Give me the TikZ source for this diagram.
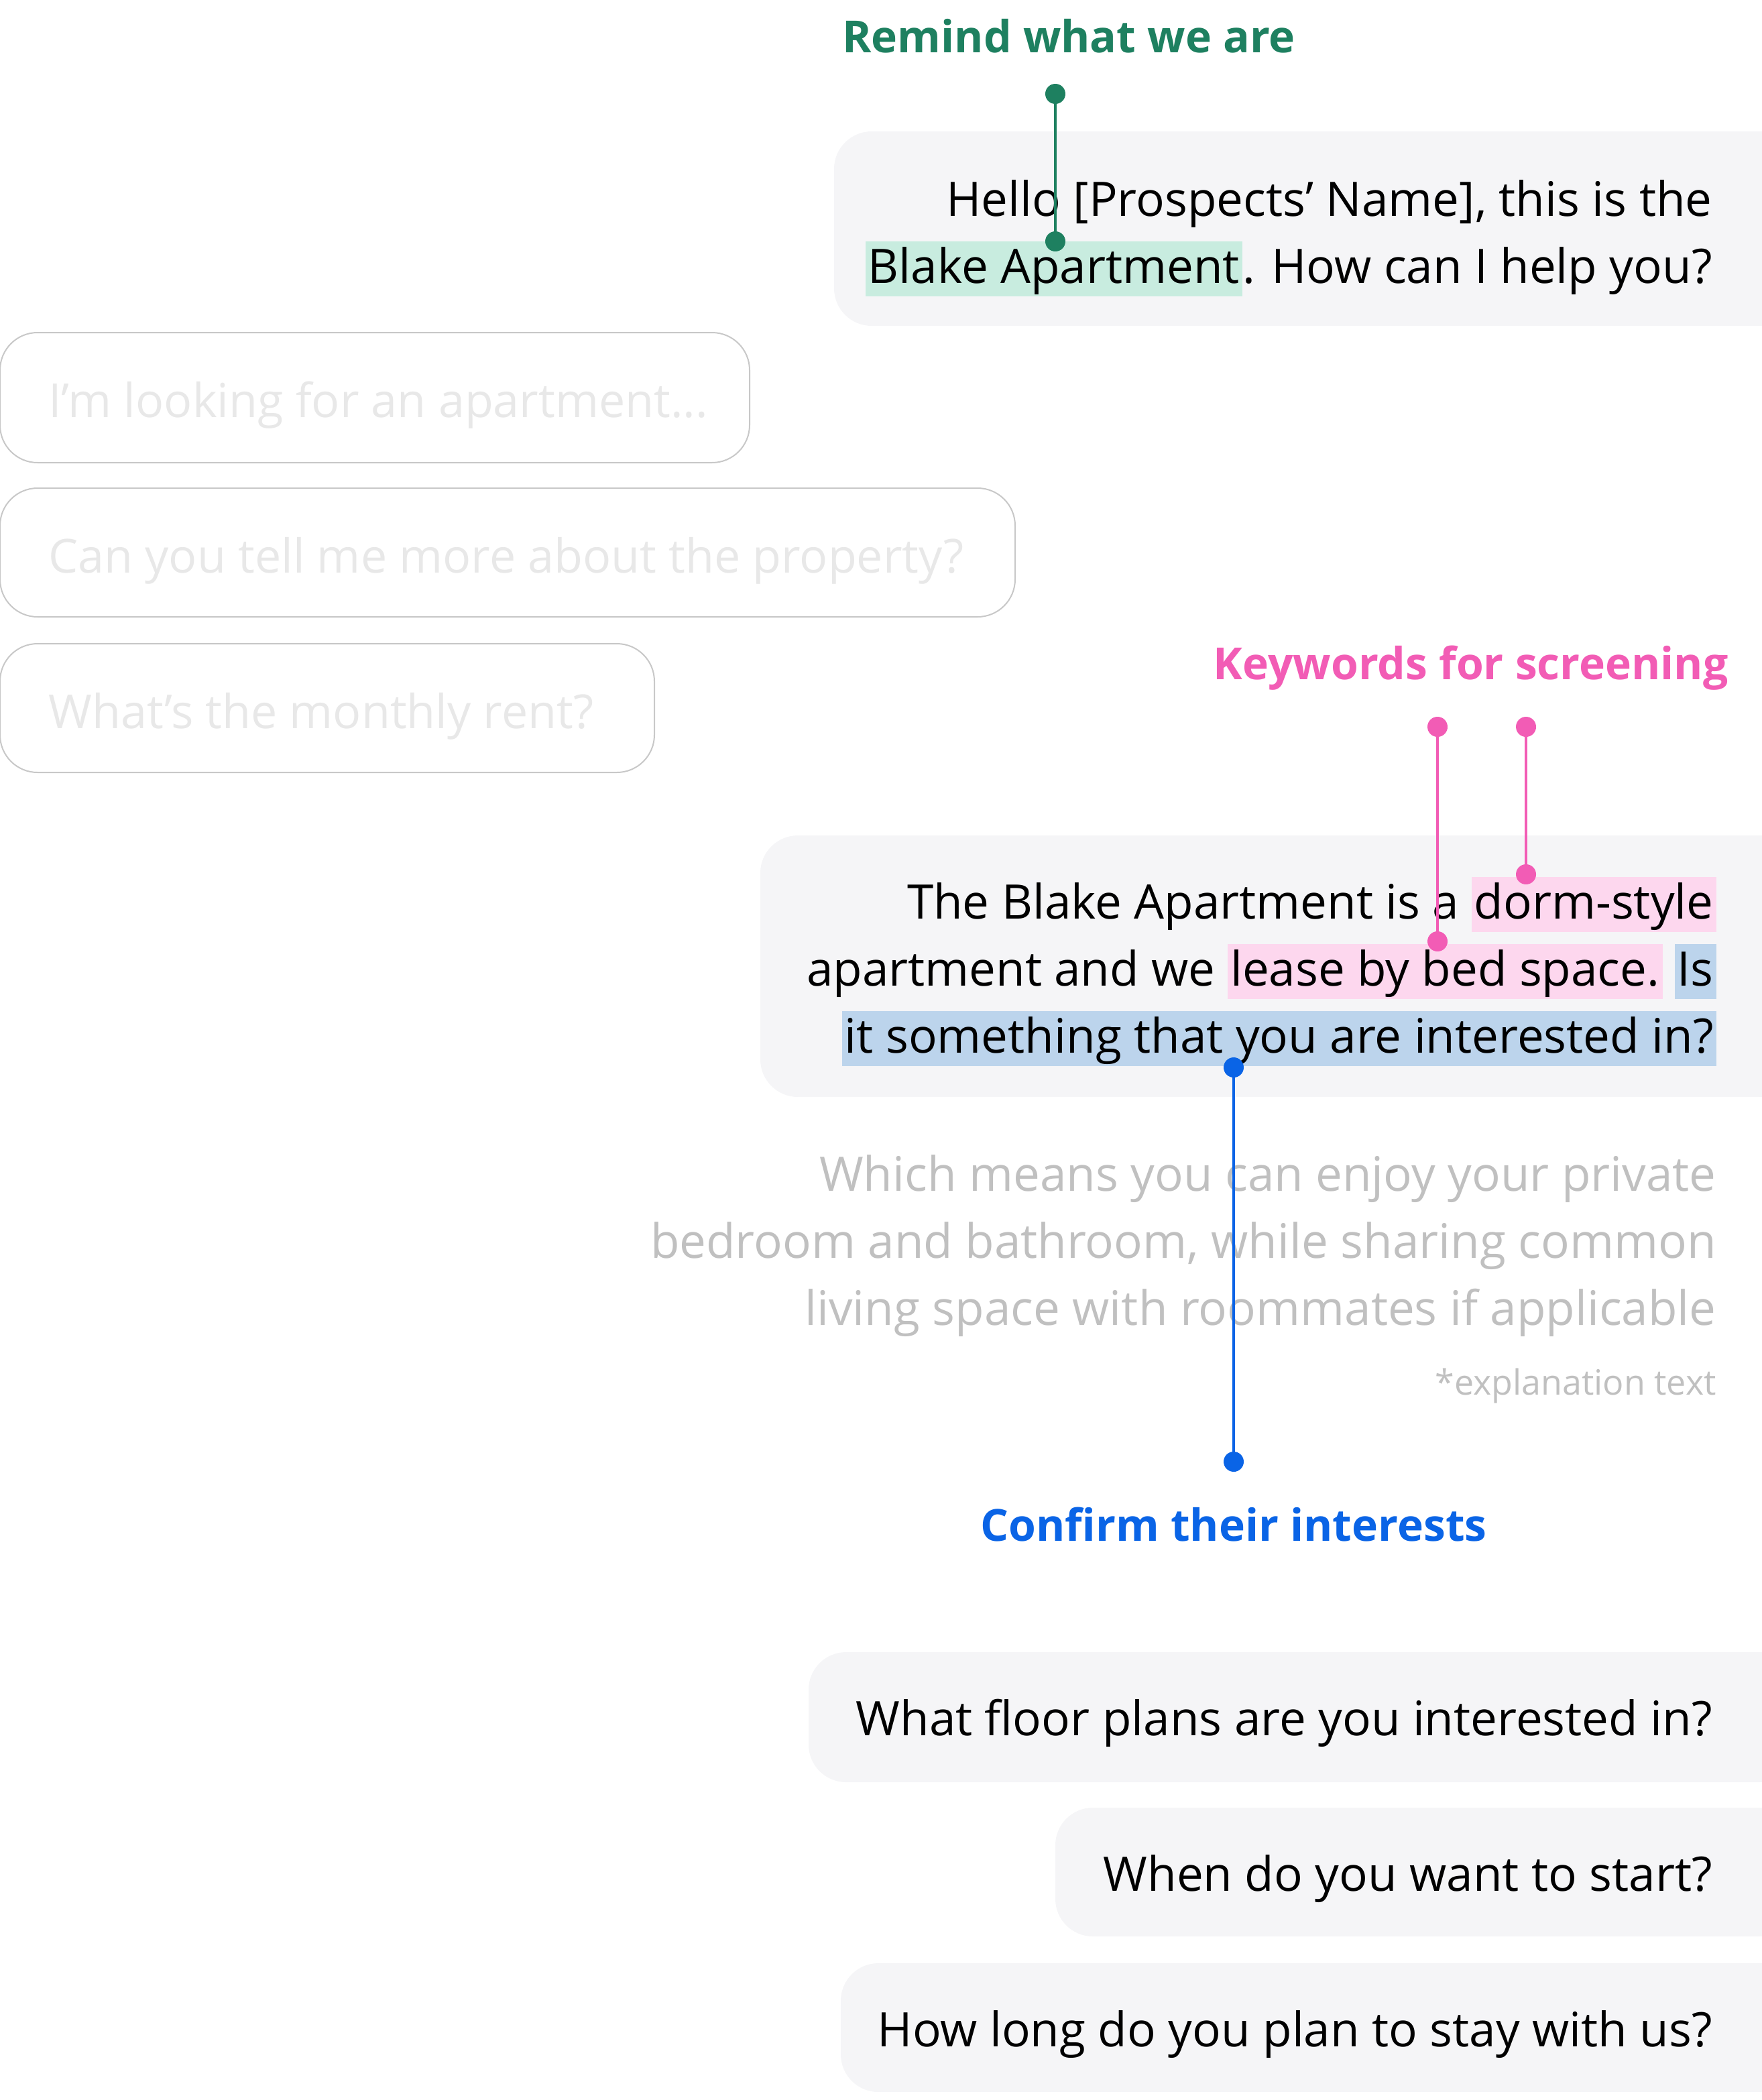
\documentclass[tikz,border=0pt]{standalone}
\usepackage{fontspec}
\setmainfont{Open Sans}
\definecolor{bub}{HTML}{F5F5F7}
\definecolor{grn}{HTML}{1E8060}
\definecolor{grnhl}{HTML}{C8ECDF}
\definecolor{pnk}{HTML}{F25CB5}
\definecolor{pnkhl}{HTML}{FDD7EE}
\definecolor{blu}{HTML}{0A64E6}
\definecolor{bluhl}{HTML}{BCD4EC}
\definecolor{ghost}{HTML}{E8E8E8}
\definecolor{outl}{HTML}{C8C8C8}
\definecolor{expl}{HTML}{C0C0C0}
\newcommand{\hlx}[2]{{\setlength{\fboxsep}{0pt}\colorbox{#1}{\rule[-10pt]{0pt}{41pt}\hspace{2pt}#2\hspace{2pt}}}}
\begin{document}
\begin{tikzpicture}[x=1pt,y=1pt,
  bubble/.style={fill=bub,rounded corners=28pt},
  ghostb/.style={draw=outl,line width=1pt,rounded corners=28pt},
  txt/.style={inner sep=0pt,anchor=base east,font=\fontsize{35.5}{42}\selectfont},
  gtxt/.style={inner sep=0pt,anchor=base west,text=ghost,font=\fontsize{35}{42}\selectfont},
  lbl/.style={inner sep=0pt,font=\fontsize{33}{38}\selectfont\bfseries},
  dot/.style={circle,fill=#1,inner sep=0pt,minimum size=15pt},
  conn/.style={line width=2.2pt,draw=#1}]
\useasboundingbox (0,0) rectangle (1314,-1566);
% bubble 1
\fill[bubble] (622,-98) rectangle (1340,-243);
\node[txt] (t1a) at (1277,-161) {Hello [Prospects’ Name], this is the};
\node[txt] (t1b) at (1277,-211) {\hlx{grnhl}{Blake Apartment}. How can I help you?};
% ghost bubbles
\draw[ghostb] (0,-248) rectangle (559,-345);
\node[gtxt] (g1) at (36,-311) {I’m looking for an apartment...};
\draw[ghostb] (0,-364) rectangle (757,-460);
\node[gtxt] (g2) at (36,-427) {Can you tell me more about the property?};
\draw[ghostb] (0,-480) rectangle (488,-576);
\node[gtxt] (g3) at (36,-543) {What’s the monthly rent?};
% bubble 2
\fill[bubble] (567,-623) rectangle (1340,-818);
\node[txt] (t2a) at (1280,-685) {The Blake Apartment is a \hlx{pnkhl}{dorm-style}};
\node[txt] (t2b) at (1280,-735) {apartment and we \hlx{pnkhl}{lease by bed space.} \hlx{bluhl}{Is}};
\node[txt] (t2c) at (1280,-785) {\hlx{bluhl}{it something that you are interested in?}};
% explanation
\node[txt,text=expl] (e1) at (1280,-888) {Which means you can enjoy your private};
\node[txt,text=expl] (e2) at (1280,-938) {bedroom and bathroom, while sharing common};
\node[txt,text=expl] (e3) at (1280,-988) {living space with roommates if applicable};
\node[txt,text=expl,font=\fontsize{26}{30}\selectfont] (e4) at (1280,-1040) {*explanation text};
% bottom bubbles
\fill[bubble] (603,-1232) rectangle (1340,-1329);
\node[txt] (b1) at (1277,-1294) {What floor plans are you interested in?};
\fill[bubble] (787,-1348) rectangle (1340,-1444);
\node[txt] (b2) at (1277,-1410) {When do you want to start?};
\fill[bubble] (627,-1464) rectangle (1340,-1560);
\node[txt] (b3) at (1277,-1526) {How long do you plan to stay with us?};
% labels and connectors
\node[lbl,text=grn] (L1) at (797,-27) {Remind what we are};
\node[dot=grn] (g1a) at (787,-70) {};
\node[dot=grn] (g1b) at (787,-180) {};
\draw[conn=grn] (g1a) -- (g1b);
\node[lbl,text=pnk,anchor=east] (L2) at (1289,-498) {Keywords for screening};
\node[dot=pnk] (p1a) at (1072,-542) {};
\node[dot=pnk] (p1b) at (1072,-702) {};
\node[dot=pnk] (p2a) at (1138,-542) {};
\node[dot=pnk] (p2b) at (1138,-652) {};
\draw[conn=pnk] (p1a) -- (p1b);
\draw[conn=pnk] (p2a) -- (p2b);
\node[dot=blu] (c1a) at (920,-796) {};
\node[dot=blu] (c1b) at (920,-1090) {};
\draw[conn=blu] (c1a) -- (c1b);
\node[lbl,text=blu] (L3) at (920,-1137) {Confirm their interests};
\end{tikzpicture}
\end{document}
